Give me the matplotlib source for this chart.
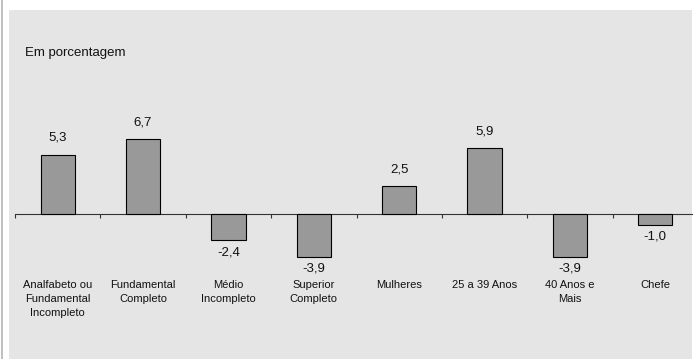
import matplotlib.pyplot as plt
from matplotlib.patches import Rectangle
import numpy as np

plt.rcParams['font.family'] = ['Liberation Sans', 'DejaVu Sans']

#-----------------DATA---------------------#
categories = [
    "Analfabeto ou\nFundamental\nIncompleto",
    "Fundamental\nCompleto",
    "Médio\nIncompleto",
    "Superior\nCompleto",
    "Mulheres",
    "25 a 39 Anos",
    "40 Anos e\nMais",
    "Chefe",
]
values = [5.3, 6.7, -2.4, -3.9, 2.5, 5.9, -3.9, -1.0]
value_labels = ["5,3", "6,7", "-2,4", "-3,9", "2,5", "5,9", "-3,9", "-1,0"]
title = "Em porcentagem"

W, H = 693, 359
fig = plt.figure(figsize=(W / 100, H / 100), dpi=100)
fig.patch.set_facecolor('white')

# outer frame: thin gray stripe on the left and the light gray panel (behind the axes)
fig.patches.append(Rectangle((1 / W, 0), 2 / W, 1, transform=fig.transFigure,
                             facecolor='#c0c0c0', edgecolor='none', zorder=-10))
fig.patches.append(Rectangle((9 / W, 0), 683 / W, (H - 10) / H, transform=fig.transFigure,
                             facecolor='#e5e5e5', edgecolor='none', zorder=-10))

# axes placed in pixel terms: zero line at y=213.7px, ~11.1 px per unit
px_per_unit = 11.1
zero_y = 213.7
ax = fig.add_axes([15 / W, 0, (698 - 15) / W, (H - 10) / H])
ax.set_facecolor('none')
x = np.arange(len(values))
ax.set_xlim(-0.5, len(values) - 0.5)
ax.set_ylim(-(H - zero_y) / px_per_unit, (zero_y - 10) / px_per_unit)

ax.bar(x, values, width=0.4, color='#999999', edgecolor='black', linewidth=0.8, zorder=3)

# value labels above/below bars
for xi, v, lab in zip(x, values, value_labels):
    off = 12.2 if v >= 0 else -8.6
    ax.annotate(lab, (xi, v), xytext=(0, off), textcoords='offset points',
                ha='center', va='center', fontsize=9.5, color='#111111')

# spines: only the zero line
for s in ['top', 'right', 'left']:
    ax.spines[s].set_visible(False)
ax.spines['bottom'].set_position(('data', 0))
ax.spines['bottom'].set_color('#333333')
ax.spines['bottom'].set_linewidth(0.8)
ax.set_yticks([])

ax.set_xticks(x)
ax.set_xticklabels(categories, fontsize=8, color='#111111', linespacing=1.55)
ax.tick_params(axis='x', which='major', length=0, pad=47.5)
ax.set_xticks(np.arange(-0.5, len(values) + 0.5, 1), minor=True)
ax.tick_params(axis='x', which='minor', length=3, width=0.8, color='#333333', direction='out')

fig.text(25 / W, 1 - 53 / H, title, ha='left', va='center', fontsize=9.5, color='#111111')

fig.savefig('out.png', dpi=100)
